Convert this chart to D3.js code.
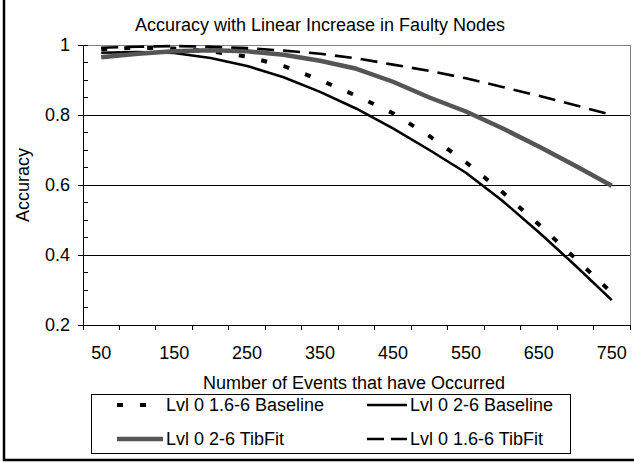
<!DOCTYPE html>
<html>
<head>
<meta charset="utf-8">
<script src="https://cdn.jsdelivr.net/npm/d3@7"></script>
<style>
body { margin: 0; background: #fff; }
text { font-family: "Liberation Sans", Arial, sans-serif; fill: #000; }
line, .domain, .frame { shape-rendering: crispEdges; }
</style>
</head>
<body>
<div id="chart"></div>
<script>
//////////
// Data //
//////////

var events = [50, 100, 150, 200, 250, 300, 350, 400, 450, 500, 550, 600, 650, 700, 750];
var xTickLabels = ["50", "150", "250", "350", "450", "550", "650", "750"];
var yTicks = [0.2, 0.4, 0.6, 0.8, 1];
var yGrid = [0.4, 0.6, 0.8];

var seriesNames = ["Lvl 0 1.6-6 Baseline", "Lvl 0 2-6 Baseline", "Lvl 0 2-6 TibFit", "Lvl 0 1.6-6 TibFit"];
var baseline16 = [0.988, 0.992, 0.99, 0.982, 0.967, 0.94, 0.9, 0.855, 0.805, 0.74, 0.665, 0.58, 0.487, 0.39, 0.292];
var baseline2  = [0.978, 0.98, 0.977, 0.963, 0.94, 0.908, 0.866, 0.818, 0.762, 0.70, 0.635, 0.555, 0.465, 0.37, 0.271];
var tibfit2    = [0.965, 0.975, 0.982, 0.985, 0.982, 0.972, 0.955, 0.932, 0.895, 0.85, 0.81, 0.762, 0.71, 0.655, 0.598];
var tibfit16   = [0.992, 0.995, 0.997, 0.995, 0.991, 0.984, 0.975, 0.962, 0.944, 0.926, 0.905, 0.88, 0.855, 0.828, 0.8];

// line looks, in the same order as seriesNames
var styles = [
  {color: "#000", width: 4, dash: "6,17"},
  {color: "#000", width: 2.6, dash: null},
  {color: "#555", width: 4.5, dash: null},
  {color: "#000", width: 2.6, dash: "17,9"}
];

var series = [baseline16, baseline2, tibfit2, tibfit16];

/////////////
// Layout  //
/////////////

var W = 634, H = 463;
var margin = {top: 45, left: 83};
var width = 547, height = 280;

var svg = d3.select("#chart").append("svg")
    .attr("width", W)
    .attr("height", H);

// outer chart border (top and right run off the picture)
svg.append("rect")
    .attr("x", 4).attr("y", -3)
    .attr("width", 640).attr("height", 463)
    .attr("fill", "none")
    .attr("stroke", "#000")
    .attr("stroke-width", 2.5);

var g = svg.append("g")
    .attr("transform", "translate(" + margin.left + "," + margin.top + ")");

var xScale = d3.scaleBand().domain(events).range([0, width]).padding(0),
    yScale = d3.scaleLinear().domain([0.2, 1]).range([height, 0]);

function xc(d) { return xScale(d) + xScale.bandwidth() / 2; }

// gridlines
g.selectAll(".grid").data(yGrid).enter().append("line")
    .attr("x1", 0).attr("x2", width)
    .attr("y1", function(d) { return yScale(d); })
    .attr("y2", function(d) { return yScale(d); })
    .attr("stroke", "#000").attr("stroke-width", 1);

// plot frame: top and right in grey
g.append("path")
    .attr("class", "frame")
    .attr("d", "M0," + yScale(1) + "H" + width + "V" + height)
    .attr("fill", "none").attr("stroke", "#808080").attr("stroke-width", 1);

// y axis
var yAxis = d3.axisLeft(yScale)
    .tickValues(yTicks)
    .tickSize(5)
    .tickSizeOuter(0)
    .tickPadding(8)
    .tickFormat(function(d) { return d === 1 ? "1" : d3.format(".1f")(d); });

var ya = g.append("g").call(yAxis);
ya.select(".domain").attr("stroke", "#000");
ya.selectAll("text").attr("font-size", 18).attr("font-family", null);

// minor ticks inside
g.selectAll(".minor").data(yScale.ticks(16)).enter().append("line")
    .attr("x1", 0).attr("x2", 5)
    .attr("y1", function(d) { return yScale(d); })
    .attr("y2", function(d) { return yScale(d); })
    .attr("stroke", "#000");

// x axis: labels on every second category, ticks on band edges
var xAxis = d3.axisBottom(xScale)
    .tickValues(events.filter(function(d) { return xTickLabels.indexOf(String(d)) >= 0; }))
    .tickSize(0)
    .tickPadding(21);

var xa = g.append("g")
    .attr("transform", "translate(0," + height + ")")
    .call(xAxis);
xa.select(".domain").attr("stroke", "#000");
xa.selectAll("text").attr("font-size", 18).attr("font-family", null);

var edges = events.map(function(d) { return xScale(d); }).concat([width]);
g.selectAll(".xtick").data(edges).enter().append("line")
    .attr("x1", function(d) { return d; }).attr("x2", function(d) { return d; })
    .attr("y1", height).attr("y2", height + 5)
    .attr("stroke", "#000");

// lines
var line = d3.line()
    .x(function(d, i) { return xc(events[i]); })
    .y(function(d) { return yScale(d); });

g.selectAll(".series").data(series).enter().append("path")
    .attr("d", line)
    .attr("fill", "none")
    .attr("stroke", function(d, i) { return styles[i].color; })
    .attr("stroke-width", function(d, i) { return styles[i].width; })
    .attr("stroke-dasharray", function(d, i) { return styles[i].dash; })
    .attr("stroke-linejoin", "round");

// titles
svg.append("text")
    .attr("x", 320).attr("y", 31)
    .attr("text-anchor", "middle")
    .attr("font-size", 18)
    .text("Accuracy with Linear Increase in Faulty Nodes");

svg.append("text")
    .attr("x", 354).attr("y", 389)
    .attr("text-anchor", "middle")
    .attr("font-size", 18)
    .text("Number of Events that have Occurred");

svg.append("text")
    .attr("transform", "translate(29," + (margin.top + height / 2) + ") rotate(-90)")
    .attr("text-anchor", "middle")
    .attr("font-size", 18)
    .text("Accuracy");

////////////
// Legend //
////////////

var legend = svg.append("g");
legend.append("rect")
    .attr("class", "frame")
    .attr("x", 91).attr("y", 394)
    .attr("width", 479).attr("height", 59)
    .attr("fill", "#fff").attr("stroke", "#000").attr("stroke-width", 1);

var legendPos = [
  {x: 115, y: 405}, {x: 367, y: 405},
  {x: 115, y: 439}, {x: 367, y: 439}
];

var item = legend.selectAll(".item").data(seriesNames).enter().append("g")
    .attr("transform", function(d, i) { return "translate(" + legendPos[i].x + "," + legendPos[i].y + ")"; });

item.append("line")
    .style("shape-rendering", "auto")
    .attr("x1", function(d, i) { return i % 2 ? 0 : 2; })
    .attr("x2", function(d, i) { return i % 2 ? 40 : 48; })
    .attr("stroke", function(d, i) { return styles[i].color; })
    .attr("stroke-width", function(d, i) { return styles[i].width; })
    .attr("stroke-dasharray", function(d, i) { return i === 3 ? "17,7" : styles[i].dash; });

item.append("text")
    .attr("x", function(d, i) { return i % 2 ? 43 : 51; })
    .attr("dy", "0.36em")
    .attr("font-size", 18)
    .text(function(d) { return d; });
</script>
</body>
</html>
